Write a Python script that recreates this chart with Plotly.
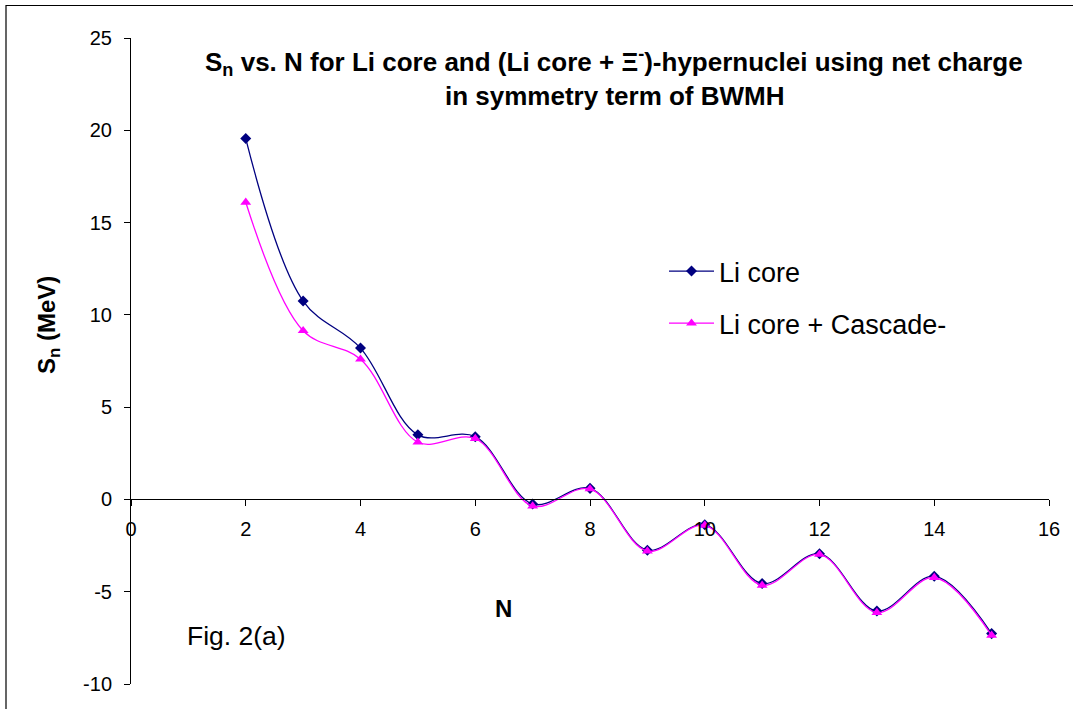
import plotly.graph_objects as go

# ---- data ----
N = [2, 3, 4, 5, 6, 7, 8, 9, 10, 11, 12, 13, 14, 15]
sn_li_core = [19.55, 10.75, 8.2, 3.5, 3.4, -0.25, 0.6, -2.75, -1.37, -4.56, -2.94, -6.05, -4.16, -7.27]
sn_li_cascade = [16.1, 9.14, 7.6, 3.1, 3.3, -0.36, 0.57, -2.8, -1.4, -4.65, -2.98, -6.13, -4.23, -7.36]

x_ticks = [0, 2, 4, 6, 8, 10, 12, 14, 16]
x_ticktext = ["0", "2", "4", "6", "8", "10", "12", "14", "16"]
y_ticks = [-10, -5, 0, 5, 10, 15, 20, 25]
y_ticktext = ["-10", "-5", "0", "5", "10", "15", "20", "25"]
X_RANGE = [0, 16]
Y_RANGE = [-10, 25]

FONT = "Liberation Sans, Arial, sans-serif"

fig = go.Figure()
fig.add_trace(go.Scatter(
    x=N, y=sn_li_core, name="Li core", mode="lines+markers",
    line=dict(color="#000080", width=1.3, shape="spline", smoothing=1),
    marker=dict(symbol="diamond", size=8.5, color="#000080"),
    legendgroup="a",
))
fig.add_trace(go.Scatter(
    x=N, y=sn_li_cascade, name="Li core + Cascade-", mode="lines+markers",
    line=dict(color="#FF00FF", width=1.3, shape="spline", smoothing=1),
    marker=dict(symbol="triangle-up", size=9.5, color="#FF00FF"),
    legendgroup="b",
))

W, H = 1073, 709
ML, MT = 131, 38
pw, ph = 918, 646
MR = W - ML - pw
MB = H - MT - ph

def px(xpix):
    return (xpix - ML) / pw

def py(ypix):
    return (MT + ph - ypix) / ph

xpos = (0 - Y_RANGE[0]) / (Y_RANGE[1] - Y_RANGE[0])

fig.update_layout(
    width=W, height=H,
    margin=dict(l=ML, r=MR, t=MT, b=MB),
    paper_bgcolor="white", plot_bgcolor="white",
    font=dict(family=FONT, color="black", size=20),
    showlegend=True,
    legend=dict(
        x=px(664), y=py(247), xanchor="left", yanchor="top",
        font=dict(size=27, family=FONT), itemwidth=45,
        tracegroupgap=14, traceorder="grouped",
        bgcolor="rgba(0,0,0,0)",
    ),
    xaxis=dict(
        range=X_RANGE, tickvals=x_ticks, ticktext=x_ticktext,
        showgrid=False, zeroline=False, showline=True, linecolor="black", linewidth=1,
        ticks="outside", ticklen=6, tickcolor="black",
        anchor="free", position=xpos,
        tickfont=dict(size=20, family=FONT), ticklabelstandoff=6,
    ),
    yaxis=dict(
        range=Y_RANGE, tickvals=y_ticks, ticktext=y_ticktext,
        showgrid=False, zeroline=False, showline=True, linecolor="black", linewidth=1,
        ticks="outside", ticklen=6, tickcolor="black",
        tickfont=dict(size=20, family=FONT), ticklabelstandoff=8,
    ),
    shapes=[dict(
        type="rect", xref="paper", yref="paper",
        x0=px(6), x1=px(1100), y0=py(740), y1=py(5.5),
        line=dict(color="black", width=1.2), fillcolor="rgba(0,0,0,0)", layer="below",
    )],
    annotations=[
        dict(text="<b>S<sub>n</sub> vs. N for Li core and (Li core + Ξ<sup>-</sup>)-hypernuclei using net charge</b>",
             xref="paper", yref="paper", x=px(614), y=py(62), xanchor="center", yanchor="middle",
             showarrow=False, font=dict(size=26, family=FONT)),
        dict(text="<b>in symmetry term of BWMH</b>",
             xref="paper", yref="paper", x=px(615), y=py(96), xanchor="center", yanchor="middle",
             showarrow=False, font=dict(size=26, family=FONT)),
        dict(text="<b>N</b>", xref="paper", yref="paper", x=px(503), y=py(608),
             xanchor="center", yanchor="middle", showarrow=False, font=dict(size=24, family=FONT)),
        dict(text="<b>S<sub>n</sub> (MeV)</b>", xref="paper", yref="paper", x=px(48), y=py(325),
             xanchor="center", yanchor="middle", textangle=-90, showarrow=False,
             font=dict(size=24, family=FONT)),
        dict(text="Fig. 2(a)", xref="paper", yref="paper", x=px(236), y=py(636),
             xanchor="center", yanchor="middle", showarrow=False, font=dict(size=26.5, family=FONT)),
    ],
)

fig.write_html("out.html", config={"displayModeBar": False},
               post_script="document.body.style.margin='0';")
